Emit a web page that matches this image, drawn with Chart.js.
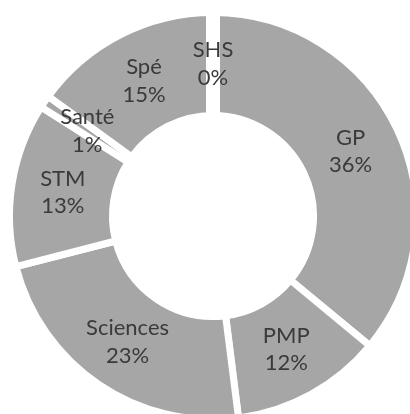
<!DOCTYPE html>
<html>
<head>
<meta charset="utf-8">
<script src="https://cdn.jsdelivr.net/npm/chart.js@4/dist/chart.umd.min.js"></script>
<style>
  html, body { margin: 0; padding: 0; background: #fff; }
  #wrap { width: 410px; height: 414px; position: relative; }
</style>
</head>
<body>
<div id="wrap"><canvas id="donut"></canvas></div>
<script>
// Filières (sens horaire depuis le haut)
const categories = ['GP', 'PMP', 'Sciences', 'STM', 'Santé', 'Spé', 'SHS'];
const shares = [36, 12, 23, 13, 1, 15, 0];

const GAP = 7;

// labels inside the ring + gap for the empty slice
const sliceLabels = {
    id: 'sliceLabels',
    afterDatasetsDraw(chart) {
        const ctx = chart.ctx;
        const meta = chart.getDatasetMeta(0);
        ctx.save();
        meta.data.forEach((arc, i) => {
            const p = arc.getProps(['x', 'y', 'startAngle', 'endAngle', 'innerRadius', 'outerRadius']);
            if (shares[i] === 0) {
                ctx.strokeStyle = '#ffffff';
                ctx.lineWidth = GAP * 2;
                ctx.beginPath();
                ctx.moveTo(p.x + Math.cos(p.startAngle) * (p.innerRadius - 6), p.y + Math.sin(p.startAngle) * (p.innerRadius - 6));
                ctx.lineTo(p.x + Math.cos(p.startAngle) * (p.outerRadius + 6), p.y + Math.sin(p.startAngle) * (p.outerRadius + 6));
                ctx.stroke();
            }
        });
        ctx.font = "22px Lato";
        ctx.fillStyle = '#3a3a3a';
        ctx.textAlign = 'center';
        ctx.textBaseline = 'alphabetic';
        meta.data.forEach((arc, i) => {
            const p = arc.getProps(['x', 'y', 'startAngle', 'endAngle', 'innerRadius', 'outerRadius']);
            const a = (p.startAngle + p.endAngle) / 2;
            const r = (p.innerRadius + p.outerRadius) / 2;
            const cx = p.x + Math.cos(a) * r;
            const cy = p.y + Math.sin(a) * r;
            ctx.fillText(categories[i], cx, cy - 6.5);
            ctx.fillText(shares[i] + '%', cx, cy + 21);
        });
        ctx.restore();
    }
};

const ctxDonut = document.getElementById('donut').getContext('2d');
new Chart(ctxDonut, {
    type: 'doughnut',
    data: {
        labels: categories,
        datasets: [{
            data: shares,
            backgroundColor: '#a6a6a6',
            borderColor: '#ffffff',
            borderWidth: GAP,
            clip: false
        }]
    },
    options: {
        responsive: true,
        maintainAspectRatio: false,
        animation: false,
        radius: 203.5,
        cutout: '49.4%',
        layout: { padding: { left: 16, right: 0, top: 18, bottom: 0 } },
        plugins: {
            legend: { display: false },
            tooltip: { enabled: false }
        }
    },
    plugins: [sliceLabels]
});
</script>
</body>
</html>
